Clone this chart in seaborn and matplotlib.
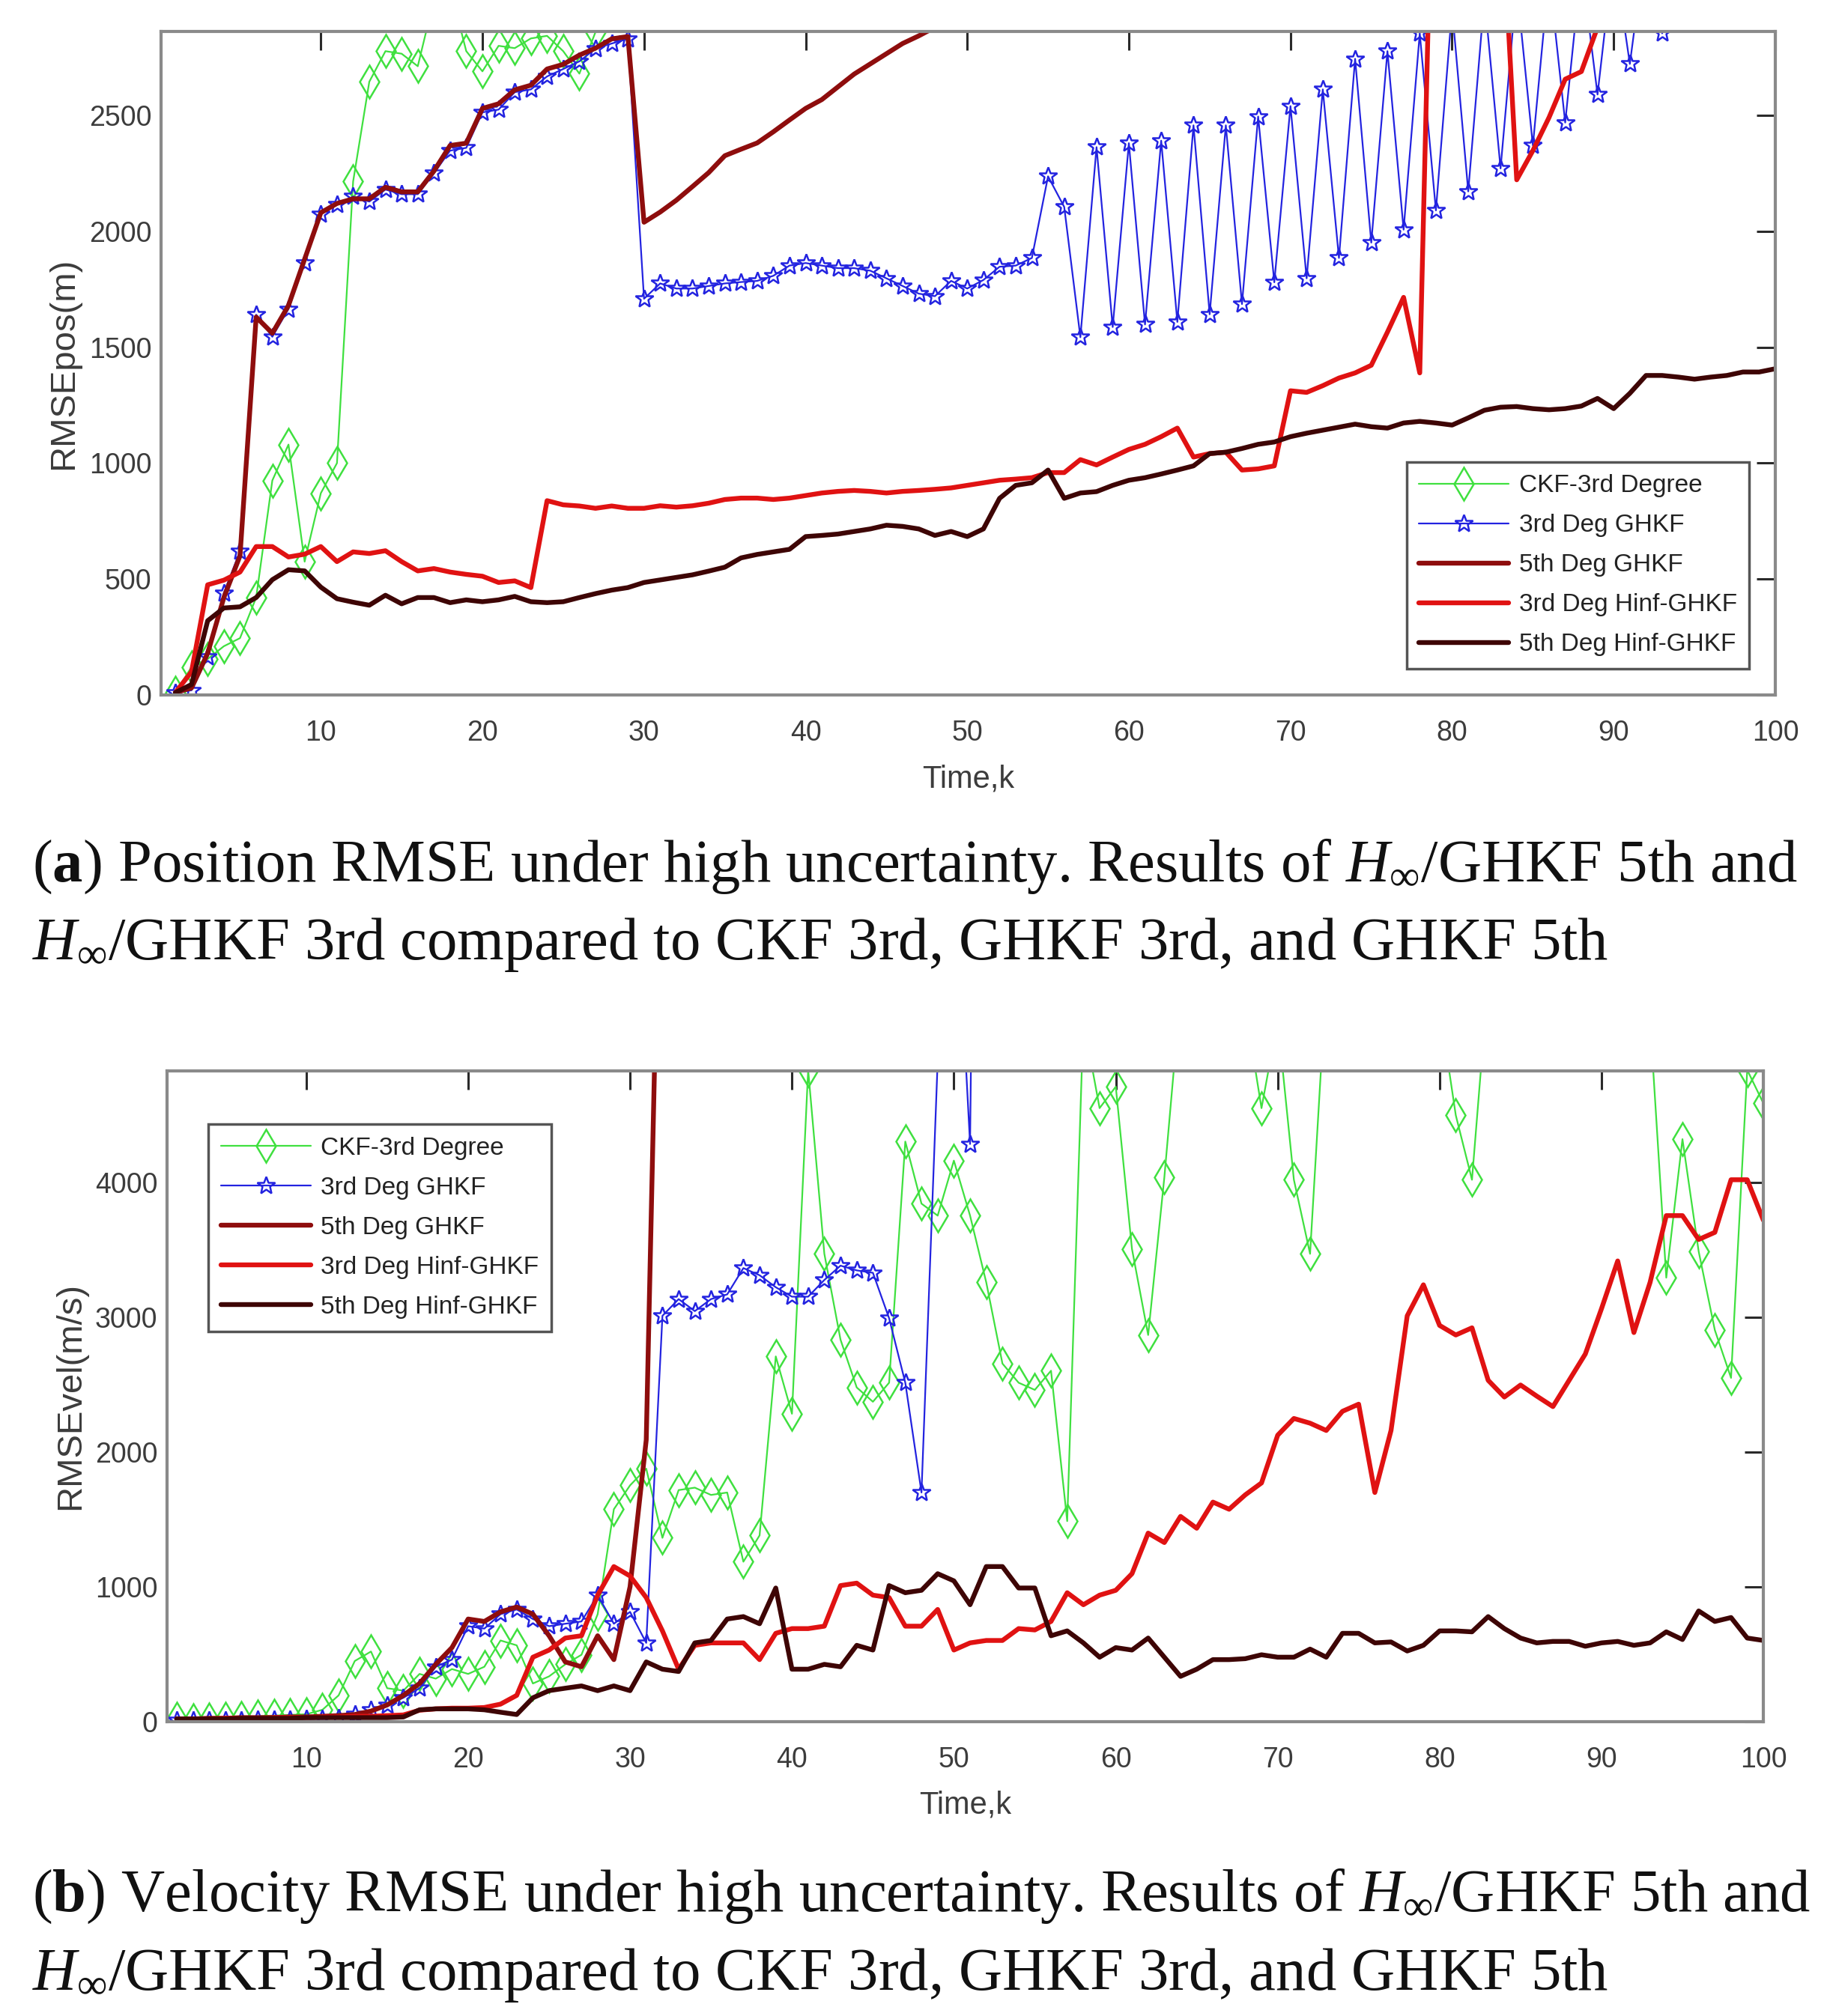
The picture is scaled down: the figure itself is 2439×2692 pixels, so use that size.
import matplotlib
matplotlib.use("Agg")
import matplotlib.pyplot as plt
import seaborn as sns
from matplotlib import font_manager

# ---------------- data ----------------
labels = ["CKF-3rd Degree", "3rd Deg GHKF", "5th Deg GHKF",
          "3rd Deg Hinf-GHKF", "5th Deg Hinf-GHKF"]

# (a) position RMSE, k = 1..100 (values above ~2860 are off the plot)
k_pos = list(range(1, 101))
pos_ckf = [10, 120, 155, 210, 245, 420, 925, 1080, 575, 870,
           1000, 2215, 2645, 2777, 2766, 2712, 3000, 3050, 2777, 2690,
           2800, 2790, 2832, 2843, 2777, 2680, 2860, 3050, 3100, 3150,
           3200, 3250, 3300, 3350, 3400, 3450, 3500, 3550, 3600, 3650,
           3700, 3750, 3800, 3850, 3900, 3950, 4000, 4050, 4100, 4150,
           4200, 4250, 4300, 4350, 4400, 4450, 4500, 4550, 4600, 4650,
           4700, 4750, 4800, 4850, 4900, 4950, 5000, 5050, 5100, 5150,
           5200, 5250, 5300, 5350, 5400, 5450, 5500, 5550, 5600, 5650,
           5700, 5750, 5800, 5850, 5900, 5950, 6000, 6050, 6100, 6150,
           6200, 6250, 6300, 6350, 6400, 6450, 6500, 6550, 6600, 6650]
pos_ghkf3 = [10, 20, 165, 440, 620, 1640, 1545, 1665, 1865, 2075,
             2115, 2150, 2128, 2180, 2160, 2160, 2250, 2348, 2360, 2513,
             2525, 2600, 2612, 2668, 2700, 2733, 2788, 2810, 2830, 1709,
             1775, 1753, 1753, 1764, 1775, 1781, 1786, 1808, 1852, 1863,
             1852, 1841, 1841, 1830, 1797, 1764, 1731, 1720, 1786, 1753,
             1790, 1847, 1852, 1885, 2237, 2105, 1543, 2363, 1587, 2380,
             1598, 2391, 1609, 2457, 1642, 2457, 1686, 2495, 1780, 2540,
             1797, 2612, 1885, 2744, 1951, 2777, 2007, 2854, 2090, 2960,
             2172, 3010, 2271, 3060, 2370, 3110, 2469, 3150, 2590, 3200,
             2722, 3250, 2854, 3300, 2950, 3350, 3000, 3400, 3050, 3450]
pos_ghkf5 = [10, 30, 180, 420, 600, 1630, 1560, 1680, 1880, 2080,
             2120, 2140, 2140, 2190, 2170, 2170, 2260, 2370, 2380, 2530,
             2550, 2610, 2630, 2700, 2720, 2760, 2790, 2830, 2840, 2039,
             2083, 2134, 2193, 2253, 2326, 2354, 2381, 2429, 2480, 2530,
             2568, 2623, 2678, 2722, 2766, 2810, 2843, 2880, 2920, 2960,
             3000, 3040, 3080, 3120, 3160, 3200, 3240, 3280, 3320, 3360,
             3400, 3440, 3480, 3520, 3560, 3600, 3640, 3680, 3720, 3760,
             3800, 3840, 3880, 3920, 3960, 4000, 4040, 4080, 4120, 4160,
             4200, 4240, 4280, 4320, 4360, 4400, 4440, 4480, 4520, 4560,
             4600, 4640, 4680, 4720, 4760, 4800, 4840, 4880, 4920, 4960]
pos_hinf3 = [10, 100, 475, 495, 530, 640, 640, 595, 607, 640,
             575, 617, 610, 622, 575, 535, 545, 530, 520, 512,
             485, 492, 463, 838, 820, 815, 805, 815, 805, 805,
             816, 810, 816, 827, 843, 849, 849, 843, 849, 860,
             871, 878, 882, 878, 871, 878, 882, 887, 893, 904,
             915, 926, 931, 937, 959, 959, 1015, 992, 1026, 1059,
             1081, 1114, 1151, 1026, 1041, 1047, 970, 975, 988, 1312,
             1305, 1334, 1367, 1389, 1422, 1565, 1715, 1389, 4300, 4400,
             4500, 4400, 3500, 2222, 2348, 2491, 2656, 2689, 2880, 3000,
             3100, 3200, 3300, 3400, 3500, 3600, 3700, 3800, 3900, 4000]
pos_hinf5 = [10, 45, 320, 375, 380, 420, 497, 540, 535, 465,
             415, 400, 387, 430, 393, 420, 420, 398, 410, 402,
             410, 425, 402, 398, 402, 420, 437, 452, 463, 485,
             496, 507, 518, 534, 551, 591, 606, 617, 628, 683,
             688, 694, 705, 716, 732, 727, 716, 688, 705, 683,
             716, 848, 904, 915, 970, 848, 871, 877, 904, 926,
             937, 953, 970, 988, 1041, 1047, 1063, 1081, 1091, 1114,
             1129, 1142, 1155, 1168, 1157, 1151, 1173, 1180, 1173, 1164,
             1195, 1228, 1241, 1244, 1235, 1230, 1235, 1246, 1279, 1235,
             1301, 1378, 1378, 1371, 1362, 1371, 1378, 1393, 1393, 1407]

# (b) velocity RMSE, k = 2..100 (values above ~4830 are off the plot)
k_vel = list(range(2, 101))
vel_ckf = [20, 10, 15, 20, 25, 40, 45, 50, 55, 88,
           195, 450, 520, 248, 230, 354, 319, 390, 354, 407,
           602, 566, 283, 336, 425, 496, 797, 1575, 1752, 1876,
           1363, 1717, 1735, 1681, 1699, 1186, 1381, 2708, 2283, 4832,
           3469, 2832, 2478, 2372, 2513, 4301, 3841, 3752, 4160, 3752,
           3257, 2655, 2513, 2460, 2602, 1487, 5200, 4549, 4708, 3505,
           2867, 4036, 5400, 5600, 5800, 5600, 5300, 4549, 5200, 4018,
           3469, 5500, 5800, 6000, 6100, 6000, 5900, 5700, 5300, 4496,
           4018, 5500, 5800, 6000, 6200, 6300, 6200, 6000, 5800, 5600,
           5400, 5200, 3292, 4319, 3487, 2903, 2549, 4832, 4584]
vel_ghkf3 = [10, 10, 10, 10, 10, 15, 15, 15, 20, 20,
             25, 53, 88, 124, 177, 248, 407, 460, 708, 690,
             797, 832, 761, 708, 726, 743, 938, 726, 814, 584,
             3009, 3133, 3044, 3133, 3168, 3363, 3310, 3221, 3151, 3151,
             3275, 3381, 3346, 3328, 2991, 2513, 1699, 4900, 6560, 4283,
             15000, 16000, 17000, 18000, 19000, 20000, 21000, 22000, 23000, 24000,
             25000, 26000, 27000, 28000, 29000, 30000, 31000, 32000, 33000, 34000,
             35000, 36000, 37000, 38000, 39000, 40000, 41000, 42000, 43000, 44000,
             45000, 46000, 47000, 48000, 49000, 50000, 51000, 52000, 53000, 54000,
             55000, 56000, 57000, 58000, 59000, 60000, 61000, 62000, 63000]
vel_ghkf5 = [20, 20, 25, 25, 30, 30, 30, 35, 35, 40,
             45, 53, 78, 124, 195, 283, 425, 549, 761, 743,
             814, 850, 797, 637, 443, 407, 637, 460, 1000, 2090,
             7500, 9000, 10500, 12000, 13500, 15000, 16500, 18000, 19500, 21000,
             22500, 24000, 25500, 27000, 28500, 30000, 31500, 33000, 34500, 36000,
             37500, 39000, 40500, 42000, 43500, 45000, 46500, 48000, 49500, 51000,
             52500, 54000, 55500, 57000, 58500, 60000, 61500, 63000, 64500, 66000,
             67500, 69000, 70500, 72000, 73500, 75000, 76500, 78000, 79500, 81000,
             82500, 84000, 85500, 87000, 88500, 90000, 91500, 93000, 94500, 96000,
             97500, 99000, 100500, 102000, 103500, 105000, 106500, 108000, 109500]
vel_hinf3 = [20, 20, 20, 25, 25, 25, 30, 30, 30, 35,
             35, 40, 40, 45, 50, 85, 95, 100, 100, 105,
             130, 195, 478, 531, 620, 637, 938, 1150, 1080, 920,
             673, 389, 566, 584, 584, 584, 460, 655, 690, 690,
             708, 1009, 1027, 938, 920, 708, 708, 832, 531, 584,
             602, 602, 690, 680, 743, 956, 867, 938, 974, 1097,
             1398, 1328, 1522, 1434, 1628, 1575, 1682, 1770, 2124, 2248,
             2213, 2159, 2301, 2354, 1699, 2159, 3009, 3239, 2938, 2867,
             2920, 2531, 2407, 2496, 2414, 2336, 2531, 2726, 3062, 3416,
             2885, 3257, 3752, 3752, 3575, 3628, 4018, 4018, 3717]
vel_hinf5 = [20, 20, 20, 20, 25, 25, 25, 25, 30, 30,
             30, 30, 30, 30, 35, 88, 95, 95, 95, 88,
             70, 53, 177, 230, 248, 265, 230, 265, 230, 443,
             389, 372, 584, 602, 761, 779, 726, 991, 389, 389,
             425, 407, 566, 531, 1009, 956, 974, 1097, 1044, 867,
             1150, 1150, 991, 991, 637, 673, 584, 478, 549, 531,
             620, 478, 336, 389, 460, 460, 467, 496, 478, 478,
             538, 478, 655, 655, 584, 591, 524, 566, 673, 673,
             666, 779, 690, 620, 584, 595, 595, 559, 584, 595,
             566, 584, 666, 609, 821, 743, 772, 620, 602]

captions = [
    (r"($\mathbf{a}$) Position RMSE under high uncertainty. Results of $H_\infty$/GHKF 5th and",
     r"$H_\infty$/GHKF 3rd compared to CKF 3rd, GHKF 3rd, and GHKF 5th"),
    (r"($\mathbf{b}$) Velocity RMSE under high uncertainty. Results of $H_\infty$/GHKF 5th and",
     r"$H_\infty$/GHKF 3rd compared to CKF 3rd, GHKF 3rd, and GHKF 5th"),
]

# ---------------- styling ----------------
styles = {
    "CKF-3rd Degree":    dict(color="#3fe03f", lw=1.6, marker="d", ms=22),
    "3rd Deg GHKF":      dict(color="#2323e0", lw=1.6, marker="*", ms=18),
    "5th Deg GHKF":      dict(color="#8e0d0d", lw=4.6, marker=None, ms=0),
    "3rd Deg Hinf-GHKF": dict(color="#e01212", lw=4.6, marker=None, ms=0),
    "5th Deg Hinf-GHKF": dict(color="#3e0505", lw=4.6, marker=None, ms=0),
}

sns.set_style("white")
names = {f.name for f in font_manager.fontManager.ttflist}
narrow = "Liberation Sans Narrow" in names
sans = "Liberation Sans Narrow" if narrow else "Liberation Sans"
grow = 1.2 if narrow else 1.0
plt.rcParams["font.family"] = [sans, "DejaVu Sans"]
plt.rcParams["mathtext.fontset"] = "custom"
plt.rcParams["mathtext.rm"] = "Liberation Serif"
plt.rcParams["mathtext.it"] = "Liberation Serif:italic"
plt.rcParams["mathtext.bf"] = "Liberation Serif:bold"

grey = "#3c3c3c"
fig = plt.figure(figsize=(24.39, 26.92), dpi=100)
ax1 = fig.add_axes([0.0882, 0.6553, 0.9717 - 0.0882, 0.9844 - 0.6553])
ax2 = fig.add_axes([0.0914, 0.1460, 0.9652 - 0.0914, 0.4688 - 0.1460])


def draw(ax, k, series, ylim, yticks, ylabel, leg_loc, leg_anchor):
    for name, vals in zip(labels, series):
        st = styles[name]
        kw = dict(color=st["color"], linewidth=st["lw"])
        if st["marker"]:
            kw.update(marker=st["marker"], markersize=st["ms"], markerfacecolor="none",
                      markeredgecolor=st["color"], markeredgewidth=1.8)
        sns.lineplot(x=k, y=vals, ax=ax, label=name, sort=False, estimator=None, **kw)
    ax.set_xlim(*ylim[0])
    ax.set_ylim(*ylim[1])
    ax.set_xticks(range(10, 101, 10))
    ax.set_yticks(yticks)
    ax.tick_params(direction="in", length=18, width=2.2, color="#2a2a2a",
                   top=True, right=True, labelsize=27 * grow, labelcolor=grey)
    ax.tick_params(axis="x", pad=24)
    ax.tick_params(axis="y", pad=9)
    for sp in ax.spines.values():
        sp.set_color("#8a8a8a")
        sp.set_linewidth(3)
    ax.set_xlabel("Time,k", fontsize=30 * grow, color=grey)
    ax.set_ylabel(ylabel, fontsize=34 * grow, color=grey)
    ax.xaxis.set_label_coords(0.5, -0.105)
    ax.yaxis.set_label_coords(-0.05, 0.5)
    leg = ax.legend(loc=leg_loc, bbox_to_anchor=leg_anchor, borderaxespad=0,
                    fontsize=24 * grow, frameon=True, fancybox=False, framealpha=1,
                    edgecolor="#555555", handlelength=3.6, handletextpad=0.4,
                    labelspacing=0.66, borderpad=0.5)
    leg.get_frame().set_linewidth(2.5)
    for t in leg.get_texts():
        t.set_color("#222222")


draw(ax1, k_pos, [pos_ckf, pos_ghkf3, pos_ghkf5, pos_hinf3, pos_hinf5],
     ((0.12, 100), (0, 2862)), range(0, 2501, 500), "RMSEpos(m)",
     "lower right", (0.984, 0.0395))
draw(ax2, k_vel, [vel_ckf, vel_ghkf3, vel_ghkf5, vel_hinf3, vel_hinf5],
     ((1.4, 100), (0, 4825)), range(0, 4001, 1000), "RMSEvel(m/s)",
     "upper left", (0.026, 0.918))

# captions, sized so that the first line spans the reference width
cap_y = [(1157, 1262), (2532, 2637)]
texts = []
for (l1, l2), (y1, y2) in zip(captions, cap_y):
    for line, ypx in ((l1, y1), (l2, y2)):
        texts.append(fig.text(43 / 2439, 1 - ypx / 2692, line, ha="left", va="center",
                              family="Liberation Serif", fontsize=50, color="#111111"))
renderer = fig.canvas.get_renderer()
w = texts[0].get_window_extent(renderer).width
for t in texts:
    t.set_fontsize(50 * 2360 / w)

fig.savefig("out.png", dpi=100, facecolor="white")
